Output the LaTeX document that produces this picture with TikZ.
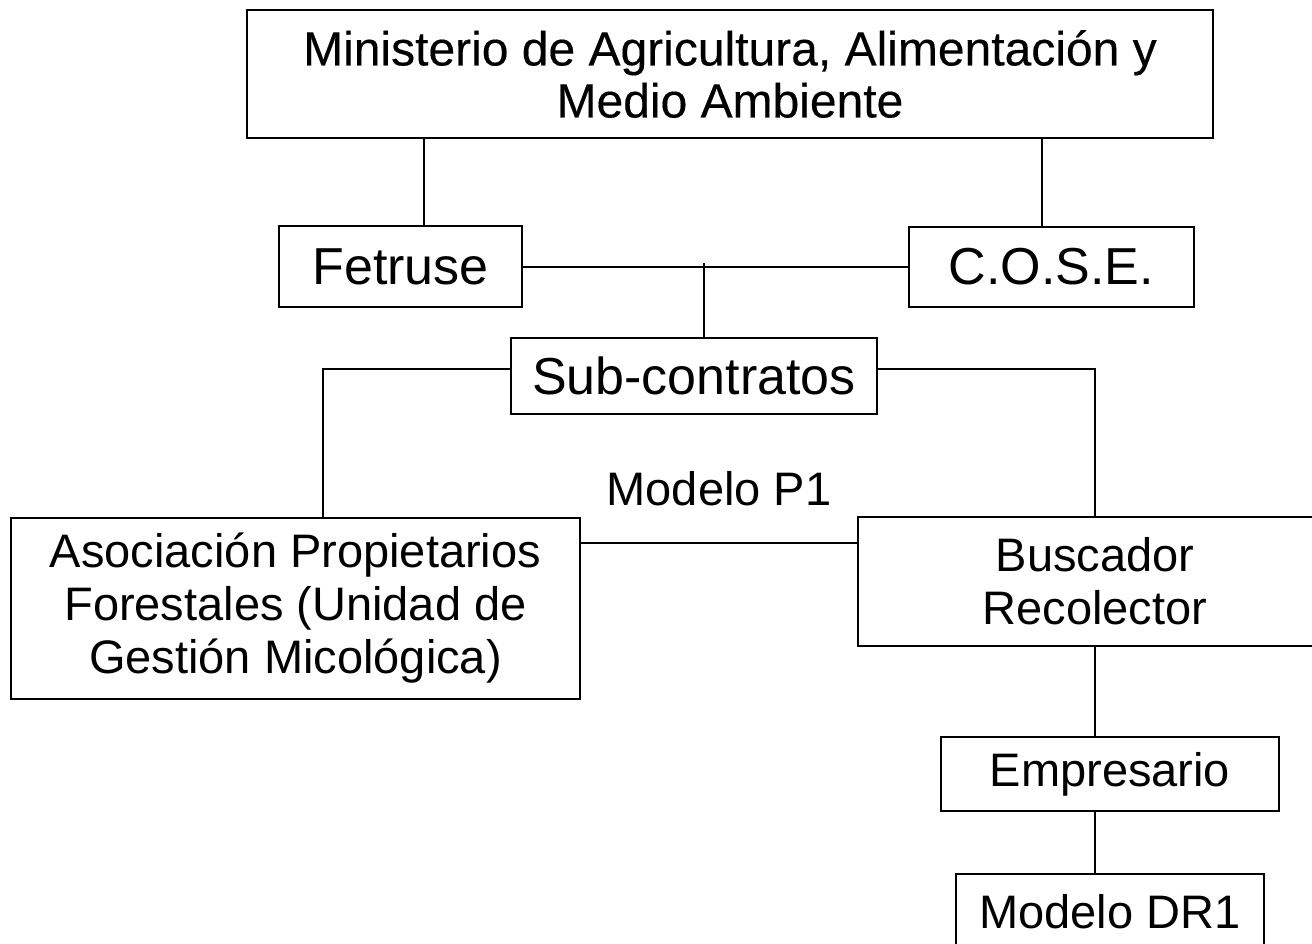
\documentclass[tikz,border=0pt]{standalone}
\usepackage{fontspec}
\setmainfont{Liberation Sans}
\newfontfamily\heavyfont{Liberation Sans}[FakeBold=0.3]
\usetikzlibrary{calc}

\begin{document}
\begin{tikzpicture}[x=0.5pt,y=-0.5pt,line width=1pt,
   box/.style={draw,align=center,inner sep=0pt},
   big/.style={font=\fontsize{26}{28}\selectfont},
   small/.style={font=\fontsize{23.5}{26.5}\selectfont}]
   \useasboundingbox (0,0) rectangle (1312,943);
   \node[box,minimum width=483pt,minimum height=64pt,
         font=\heavyfont\fontsize{24}{26}\selectfont] (mini) at (730,74)
    {Ministerio de Agricultura, Alimentación y\\Medio Ambiente};
   \node[box,big,minimum width=121.5pt,minimum height=40.5pt] (fetruse) at (400.5,266.5) {Fetruse};
   \node[box,big,minimum width=142.5pt,minimum height=40pt]   (cose)    at (1051.5,267) {C.O.S.E.};
   \node[box,big,minimum width=183pt,minimum height=38pt]     (sub)     at (694,376)    {Sub-contratos};
   \node[box,small,minimum width=284.5pt,minimum height=90.5pt] (asoc) at (295.5,608.5)
    {Asociación Propietarios\\Forestales (Unidad de\\Gestión Micológica)};
   \node[box,small,minimum width=237pt,minimum height=64.5pt] (busc) at (1095,581.5)
    {Buscador\\Recolector};
   \node[box,small,minimum width=169pt,minimum height=37pt]   (empr)    at (1110,774)   {Empresario};
   \node[box,small,minimum width=154pt,minimum height=37.5pt] (dr1)     at (1110,911.5) {Modelo DR1};
   % links under the ministry
   \draw ($(fetruse.north)+(23,0)$) -- ($(fetruse.north |- mini.south)+(23,0)$);
   \draw ($(cose.north)+(-9.5,0)$) -- ($(cose.north |- mini.south)+(-9.5,0)$);
   \draw (fetruse.east) -- (fetruse.east -| cose.west);
   \draw ($(sub.north)+(10,0)$) -- ($(sub.north |- fetruse.east)+(10,-4)$);
   % sub-contratos branches
   \draw ($(sub.west)+(0,-7)$) -| ($(asoc.north)+(27.5,0)$);
   \draw ($(sub.east)+(0,-7)$) -| (busc.north);
   \draw ($(asoc.east)+(0,-65.5)$) -- ($(asoc.east -| busc.west)+(0,-65.5)$)
      node[midway,anchor=base,yshift=19pt,small] (p1) {Modelo P1};
   % chain down the right
   \draw (busc.south) -- (busc.south |- empr.north);
   \draw (busc.south |- empr.south) -- (busc.south |- dr1.north);
\end{tikzpicture}
\end{document}
